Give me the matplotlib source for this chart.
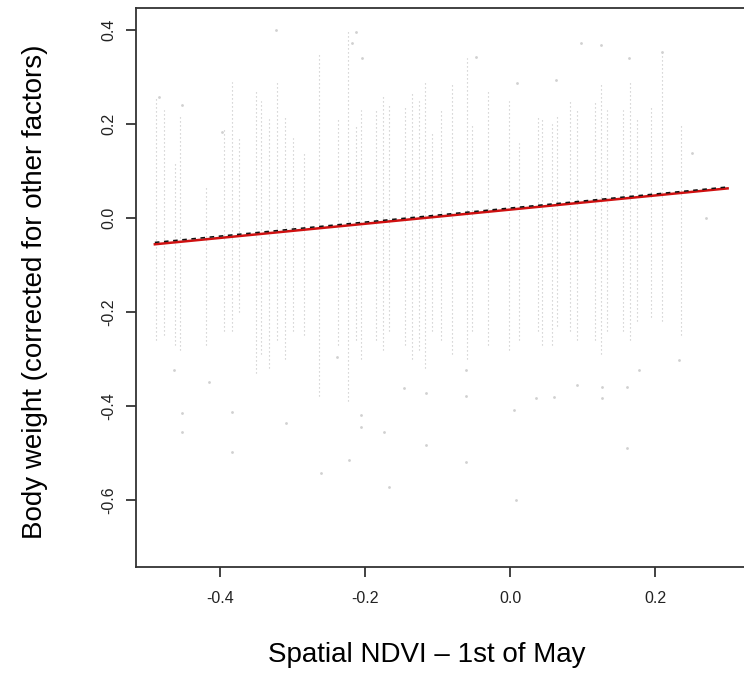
import matplotlib
matplotlib.use("Agg")
import matplotlib.pyplot as plt

plt.rcParams['font.family'] = ['Liberation Sans', 'DejaVu Sans']
plt.rcParams['axes.unicode_minus'] = False

# Columns of observations (discrete NDVI values): x, upper and lower extent of the dense streak
col_x = [-0.488, -0.478, -0.462, -0.455, -0.42, -0.395, -0.384, -0.374, -0.35, -0.343,
         -0.333, -0.322, -0.31, -0.30, -0.284, -0.263, -0.238, -0.223, -0.212, -0.205,
         -0.185, -0.175, -0.167, -0.145, -0.135, -0.126, -0.117, -0.108, -0.095, -0.08,
         -0.06, -0.052, -0.03, -0.001, 0.012, 0.038, 0.044, 0.058, 0.065, 0.082,
         0.092, 0.117, 0.125, 0.133, 0.156, 0.165, 0.175, 0.195, 0.21, 0.236]
col_top = [0.26, 0.23, 0.12, 0.22, 0.07, 0.19, 0.29, 0.17, 0.27, 0.25,
           0.21, 0.29, 0.22, 0.17, 0.14, 0.35, 0.21, 0.40, 0.20, 0.23,
           0.23, 0.26, 0.24, 0.24, 0.27, 0.25, 0.29, 0.18, 0.23, 0.29,
           0.34, 0.20, 0.27, 0.25, 0.16, 0.22, 0.21, 0.20, 0.22, 0.25,
           0.23, 0.25, 0.29, 0.23, 0.23, 0.29, 0.21, 0.24, 0.36, 0.20]
col_bottom = [-0.26, -0.25, -0.27, -0.28, -0.27, -0.24, -0.24, -0.20, -0.33, -0.29,
              -0.32, -0.26, -0.30, -0.24, -0.25, -0.38, -0.27, -0.39, -0.26, -0.30,
              -0.26, -0.28, -0.24, -0.27, -0.30, -0.28, -0.32, -0.24, -0.26, -0.29,
              -0.30, -0.24, -0.27, -0.28, -0.26, -0.24, -0.27, -0.27, -0.23, -0.24,
              -0.26, -0.26, -0.29, -0.24, -0.24, -0.26, -0.22, -0.21, -0.22, -0.25]

# Isolated points outside the dense streaks
out_x = [-0.452, -0.452, -0.463, -0.415, -0.383, -0.383, -0.309, -0.261, -0.239, -0.222,
         -0.206, -0.206, -0.174, -0.167, -0.116, -0.116, -0.146, -0.061, -0.061, -0.061,
         0.006, 0.008, 0.036, 0.061, 0.092, 0.127, 0.127, 0.161, 0.161, 0.178, 0.233,
         -0.323, -0.212, -0.218, -0.204, -0.452, -0.484, -0.397, 0.098, 0.126, 0.164,
         0.21, -0.047, 0.01, 0.063, 0.251, 0.27]
out_y = [-0.415, -0.455, -0.323, -0.349, -0.413, -0.498, -0.436, -0.543, -0.296, -0.515,
         -0.419, -0.445, -0.455, -0.572, -0.483, -0.372, -0.362, -0.519, -0.38, -0.323,
         -0.409, -0.60, -0.383, -0.381, -0.355, -0.359, -0.383, -0.489, -0.359, -0.323, -0.302,
         0.40, 0.396, 0.372, 0.34, 0.24, 0.257, 0.183, 0.372, 0.368, 0.34,
         0.353, 0.343, 0.287, 0.294, 0.138, 0.0]

# Fitted lines
line_x = [-0.49, 0.30]
fit_red_y = [-0.056, 0.063]
fit_dash_y = [-0.052, 0.066]

x_ticks = [-0.4, -0.2, 0.0, 0.2]
y_ticks = [-0.6, -0.4, -0.2, 0.0, 0.2, 0.4]

fig = plt.figure(figsize=(7.44, 6.77), dpi=100)
ax = fig.add_axes([136/744, 110/677, 617/744, 559/677])
ax.set_xlim(-0.516, 0.335)
ax.set_ylim(-0.743, 0.447)

ax.vlines(col_x, col_bottom, col_top, colors='#c2c2c2', linewidth=0.8,
          linestyles=[(0, (1, 2.6))], zorder=1)
ax.scatter(out_x, out_y, s=4, color='#d0d0d0', linewidths=0, zorder=1)

ax.plot(line_x, fit_red_y, color='#d01010', linewidth=1.8, zorder=3)
ax.plot(line_x, fit_dash_y, color='#111111', linewidth=1.1, linestyle=(0, (3, 3)), zorder=4)

ax.set_xticks(x_ticks)
ax.set_xticklabels([f"{v:.1f}" for v in x_ticks])
ax.set_yticks(y_ticks)
ax.set_yticklabels([f"{v:.1f}" for v in y_ticks], rotation=90, va='center')
ax.tick_params(axis='both', length=7, width=1.2, labelsize=11.5, color='#222222',
               labelcolor='#222222')
ax.tick_params(axis='x', pad=10)
ax.tick_params(axis='y', pad=7)
for s in ax.spines.values():
    s.set_linewidth(1.3)
    s.set_color('#333333')

fig.text(427/744, 1 - 655/677, "Spatial NDVI \u2013 1st of May", fontsize=20,
         ha='center', va='center')
fig.text(35/744, 1 - 292/677, "Body weight (corrected for other factors)", fontsize=20,
         ha='center', va='center', rotation=90)

fig.savefig("out.png", dpi=100)
